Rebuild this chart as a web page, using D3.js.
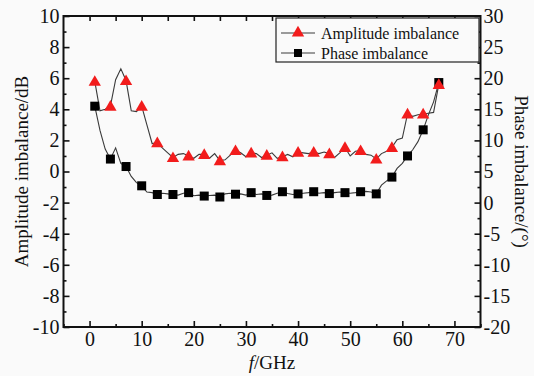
<!DOCTYPE html>
<html>
<head>
<meta charset="utf-8">
<script src="https://cdn.jsdelivr.net/npm/d3@7"></script>
<style>
  body { margin: 0; background: #fafafa; }
  svg { display: block; }
  text { font-family: "Liberation Serif", "Times New Roman", serif; fill: #111; }
</style>
</head>
<body>
<div id="chart"></div>
<script>
// frequency samples (GHz) for the traces, markers every 3 GHz
const freq = d3.range(1, 68);
// amplitude imbalance, dB
const amplitude = [5.8, 3.9, 4.0, 4.2, 5.9, 6.6, 5.85, 3.9, 3.85, 4.2,
  3.0, 1.8, 1.85, 1.5, 1.2, 0.9, 1.1, 1.15, 1.0, 0.85,
  1.1, 1.1, 0.85, 1.15, 0.7, 0.75, 1.05, 1.35, 1.2, 0.95,
  1.2, 1.15, 0.9, 1.05, 1.2, 0.85, 0.95, 1.1, 0.95, 1.25,
  1.2, 1.15, 1.25, 1.15, 1.25, 1.15, 0.9, 1.2, 1.55, 1.0,
  1.3, 1.35, 1.1, 1.05, 0.8, 1.15, 1.3, 1.55, 2.05, 2.15,
  3.7, 3.55, 3.65, 3.7, 3.75, 3.8, 5.6];
// phase imbalance, degrees
const phase = [15.5, 11.6, 8.6, 7.0, 8.8, 6.3, 5.8, 4.2, 3.2, 2.7,
  1.7, 1.6, 1.3, 1.5, 1.4, 1.3, 1.2, 1.5, 1.6, 1.1,
  1.2, 1.05, 1.15, 1.2, 0.9, 1.4, 1.5, 1.35, 1.4, 1.2,
  1.6, 1.3, 1.4, 1.15, 1.2, 1.5, 1.75, 1.45, 1.3, 1.4,
  1.5, 1.6, 1.75, 1.5, 1.6, 1.45, 1.6, 1.7, 1.6, 1.5,
  1.6, 1.75, 1.8, 1.7, 1.4, 2.8, 3.5, 4.1, 5.5, 6.3,
  7.5, 8.5, 9.8, 11.7, 14.1, 16.2, 19.3];

const xTicks = [0, 10, 20, 30, 40, 50, 60, 70];
const yLeftTicks = [-10, -8, -6, -4, -2, 0, 2, 4, 6, 8, 10];
const yRightTicks = [-20, -15, -10, -5, 0, 5, 10, 15, 20, 25, 30];

const width = 534, height = 376;
const pLeft = 63.5, pRight = 480.5, pTop = 16, pBottom = 327;

const svg = d3.select("#chart").append("svg")
  .attr("width", width)
  .attr("height", height);

const x = d3.scaleLinear().domain([-5, 75]).range([pLeft, pRight]);
const yL = d3.scaleLinear().domain([-10, 10]).range([pBottom, pTop]);
const yR = d3.scaleLinear().domain([-20, 30]).range([pBottom, pTop]);

const plain = d => String(d);  // keep the ascii hyphen for negatives

function styleAxis(g, size) {
  g.select(".domain").remove();
  g.selectAll("line").attr("stroke", "#111").attr("stroke-width", 1.6);
  g.selectAll("text").attr("font-size", size).attr("font-family", "Liberation Serif").attr("fill", "#111");
}

// major + minor ticks, pointing inward
svg.append("g").attr("transform", `translate(0,${pBottom})`)
  .call(d3.axisBottom(x).tickValues(xTicks).tickSize(-6).tickPadding(5).tickFormat(plain))
  .call(g => styleAxis(g, 20));
svg.append("g").attr("transform", `translate(0,${pBottom})`)
  .call(d3.axisBottom(x).tickValues(d3.range(-5, 76, 5).filter(v => v % 10 !== 0)).tickSize(-3).tickFormat(""))
  .call(g => styleAxis(g, 0));
svg.append("g").attr("transform", `translate(0,${pTop})`)
  .call(d3.axisTop(x).tickValues(d3.range(0, 75, 5)).tickSize(-5).tickFormat(""))
  .call(g => styleAxis(g, 0));

svg.append("g").attr("transform", `translate(${pLeft},0)`)
  .call(d3.axisLeft(yL).tickValues(yLeftTicks).tickSize(-6).tickPadding(4).tickFormat(plain))
  .call(g => styleAxis(g, 20));
svg.append("g").attr("transform", `translate(${pLeft},0)`)
  .call(d3.axisLeft(yL).tickValues(d3.range(-9, 10, 2)).tickSize(-3).tickFormat(""))
  .call(g => styleAxis(g, 0));

svg.append("g").attr("transform", `translate(${pRight},0)`)
  .call(d3.axisRight(yR).tickValues(yRightTicks).tickSize(-6).tickPadding(3).tickFormat(plain))
  .call(g => styleAxis(g, 20));
svg.append("g").attr("transform", `translate(${pRight},0)`)
  .call(d3.axisRight(yR).tickValues(d3.range(-17.5, 30, 5)).tickSize(-3).tickFormat(""))
  .call(g => styleAxis(g, 0));

// frame
svg.append("rect")
  .attr("x", pLeft).attr("y", pTop)
  .attr("width", pRight - pLeft).attr("height", pBottom - pTop)
  .attr("fill", "none").attr("stroke", "#111").attr("stroke-width", 2);

// traces
const ampLine = d3.line().x((d, i) => x(freq[i])).y(d => yL(d));
const phLine = d3.line().x((d, i) => x(freq[i])).y(d => yR(d));

svg.append("path").datum(phase)
  .attr("d", phLine).attr("fill", "none").attr("stroke", "#3a3a3a").attr("stroke-width", 1.1);
svg.append("path").datum(amplitude)
  .attr("d", ampLine).attr("fill", "none").attr("stroke", "#3a3a3a").attr("stroke-width", 1.1);

const marks = freq.map((f, i) => i).filter(i => (freq[i] - 1) % 3 === 0);
const tri = d3.symbol().type(d3.symbolTriangle).size(66);

svg.append("g").selectAll("rect")
  .data(marks).enter().append("rect")
  .attr("x", i => x(freq[i]) - 4.5)
  .attr("y", i => yR(phase[i]) - 4.5)
  .attr("width", 9).attr("height", 9)
  .attr("fill", "#000");

svg.append("g").selectAll("path")
  .data(marks).enter().append("path")
  .attr("d", tri)
  .attr("transform", i => `translate(${x(freq[i])},${yL(amplitude[i]) + 1})`)
  .attr("fill", "#f21c1c");

// legend
const lg = svg.append("g");
lg.append("rect")
  .attr("x", 276).attr("y", 18).attr("width", 203).attr("height", 44)
  .attr("fill", "#fafafa").attr("stroke", "#222").attr("stroke-width", 1.2);
const items = [["Amplitude imbalance", "tri"], ["Phase imbalance", "sq"]];
items.forEach(([label, kind], k) => {
  const yy = 33 + k * 20;
  lg.append("line").attr("x1", 281).attr("x2", 315).attr("y1", yy).attr("y2", yy)
    .attr("stroke", "#3a3a3a").attr("stroke-width", 1.1);
  if (kind === "tri") {
    lg.append("path").attr("d", tri).attr("transform", `translate(298,${yy})`).attr("fill", "#f21c1c");
  } else {
    lg.append("rect").attr("x", 294).attr("y", yy - 4).attr("width", 8).attr("height", 8).attr("fill", "#000");
  }
  lg.append("text").attr("x", 321).attr("y", yy + 5.5).attr("font-size", 16).text(label);
});

// axis titles
svg.append("text")
  .attr("transform", `translate(28,${(pTop + pBottom) / 2}) rotate(-90)`)
  .attr("text-anchor", "middle").attr("font-size", 19)
  .text("Amplitude imbalance/dB");

svg.append("text")
  .attr("transform", `translate(515,${(pTop + pBottom) / 2}) rotate(90)`)
  .attr("text-anchor", "middle").attr("font-size", 19)
  .text("Phase imbalance/(°)");

const xt = svg.append("text")
  .attr("x", (pLeft + pRight) / 2).attr("y", 369)
  .attr("text-anchor", "middle").attr("font-size", 19);
xt.append("tspan").attr("font-style", "italic").text("f");
xt.append("tspan").text("/GHz");
</script>
</body>
</html>
